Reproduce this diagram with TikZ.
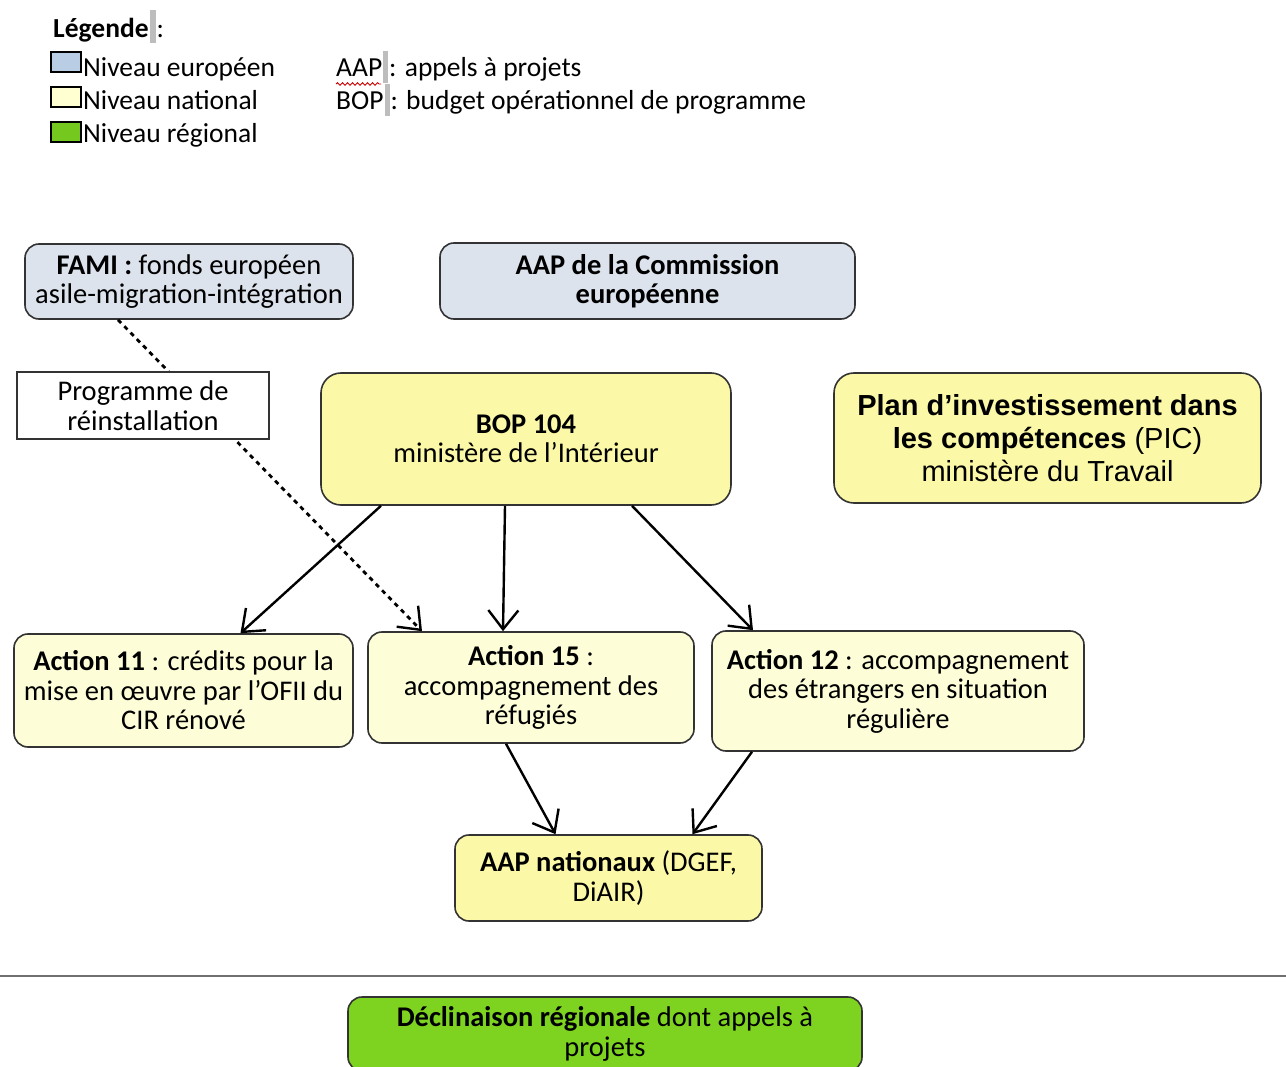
\documentclass[tikz,border=0pt]{standalone}
\usepackage{fontspec}
\setmainfont{Carlito}
\newfontfamily\arialf{Liberation Sans}
\usetikzlibrary{arrows.meta,decorations.pathmorphing}
\definecolor{eurofill}{HTML}{DCE3EC}
\definecolor{euroswatch}{HTML}{B9CDE5}
\definecolor{natfill}{HTML}{FDFDD8}
\definecolor{natswatch}{HTML}{FFFFD2}
\definecolor{bopfill}{HTML}{FBF9A7}
\definecolor{greenfill}{HTML}{7ED321}
\definecolor{greenswatch}{HTML}{74C81E}
\definecolor{bordc}{HTML}{333333}
\definecolor{barc}{HTML}{BDBDBD}
\definecolor{sepc}{HTML}{707070}
\tikzset{
  box/.style={draw=bordc, line width=1.6pt, rounded corners=14pt, align=center,
    inner sep=0pt, font=\fontsize{28.5}{29.5}\selectfont},
  lgtext/.style={anchor=base west, inner sep=0pt, font=\fontsize{27.5}{30}\selectfont},
  swatch/.style={draw=black, line width=2.6pt, minimum width=30pt, minimum height=20pt, inner sep=0pt},
  arr/.style={line width=2.4pt, -{Straight Barb[length=19pt,width=30pt,line width=2.4pt]}},
  dotarr/.style={arr, line width=2.8pt, dash pattern=on 4.5pt off 4.5pt},
}
\begin{document}
\begin{tikzpicture}[x=1pt,y=-1pt]
\useasboundingbox[fill=white] (0,0) rectangle (1286,1067);

% Legend
\node[lgtext] (leg) at (53,38) {\textbf{Légende}\hspace{1pt}{\color{barc}\rule[-5pt]{6pt}{33pt}}\hspace{1pt}:};
\node[swatch, fill=euroswatch] (sw1) at (66,62) {};
\node[swatch, fill=natswatch] (sw2) at (66,97) {};
\node[swatch, fill=greenswatch] (sw3) at (66,132) {};
\node[lgtext] (l1) at (83,77) {Niveau européen};
\node[lgtext] (l2) at (83,110) {Niveau national};
\node[lgtext] (l3) at (83,143) {Niveau régional};
\node[lgtext] (ab1) at (336,77) {AAP\hspace{1pt}{\color{barc}\rule[-6pt]{5pt}{32pt}}\hspace{1pt}: appels à projets};
\node[lgtext] (ab2) at (336,110) {BOP\hspace{1pt}{\color{barc}\rule[-6pt]{5pt}{32pt}}\hspace{1pt}: budget opérationnel de programme};
\draw[red!80!black, line width=0.9pt, decorate, decoration={snake,amplitude=1.3pt,segment length=5pt}] (336,84) -- (381,84);

% Boxes
\node[box, fill=eurofill, minimum width=328pt, minimum height=75pt] (fami) at (189,281.5)
  {\textbf{FAMI :} fonds européen\\asile-migration-intégration};
\node[box, fill=eurofill, minimum width=415pt, minimum height=76pt] (aapce) at (647.5,281)
  {\textbf{AAP de la Commission}\\\textbf{européenne}};
\node[box, fill=bopfill, rounded corners=20pt, minimum width=410pt, minimum height=132pt] (bop) at (526,439)
  {\textbf{BOP 104}\\ministère de l’Intérieur};
\node[box, fill=bopfill, rounded corners=20pt, minimum width=427pt, minimum height=130pt,
  font=\fontsize{29}{33}\arialf] (pic) at (1047.5,438)
  {\textbf{Plan d’investissement dans}\\\textbf{les compétences} (PIC)\\ministère du Travail};
\node[box, fill=natfill, minimum width=339pt, minimum height=113pt] (a11) at (183.5,690.5)
  {\textbf{Action 11} : crédits pour la\\mise en œuvre par l’OFII du\\CIR rénové};
\node[box, fill=natfill, minimum width=326pt, minimum height=111pt] (a15) at (531,687.5)
  {\textbf{Action 15} :\\accompagnement des\\réfugiés};
\node[box, fill=natfill, minimum width=372pt, minimum height=120pt] (a12) at (898,691)
  {\textbf{Action 12} : accompagnement\\des étrangers en situation\\régulière};
\node[box, fill=bopfill, minimum width=307pt, minimum height=86pt] (aapn) at (608.5,878)
  {\textbf{AAP nationaux} (DGEF,\\DiAIR)};
\node[box, fill=greenfill, minimum width=514pt, minimum height=74pt] (decl) at (605,1034)
  {\textbf{Déclinaison régionale} dont appels à\\projets};

% Connectors
\draw[arr] ([xshift=-145pt]bop.south) -- ([xshift=57pt]a11.north);
\draw[arr] ([xshift=-21pt]bop.south) -- ([xshift=-28pt]a15.north);
\draw[arr] ([xshift=106pt]bop.south) -- ([xshift=-145pt]a12.north);
\draw[arr] ([xshift=-25pt]a15.south) -- ([xshift=-53pt]aapn.north);
\draw[arr] ([xshift=-146pt]a12.south) -- ([xshift=84pt]aapn.north);
\draw[dotarr] ([xshift=-71pt]fami.south) -- ([xshift=-109pt]a15.north);

\node[box, rounded corners=0pt, fill=white, line width=1.3pt, minimum width=252pt, minimum height=67pt] (prog) at (143,405.5)
  {Programme de\\réinstallation};

% Separator
\draw[line width=2pt, sepc] (0,976) -- (1286,976);
\end{tikzpicture}
\end{document}
